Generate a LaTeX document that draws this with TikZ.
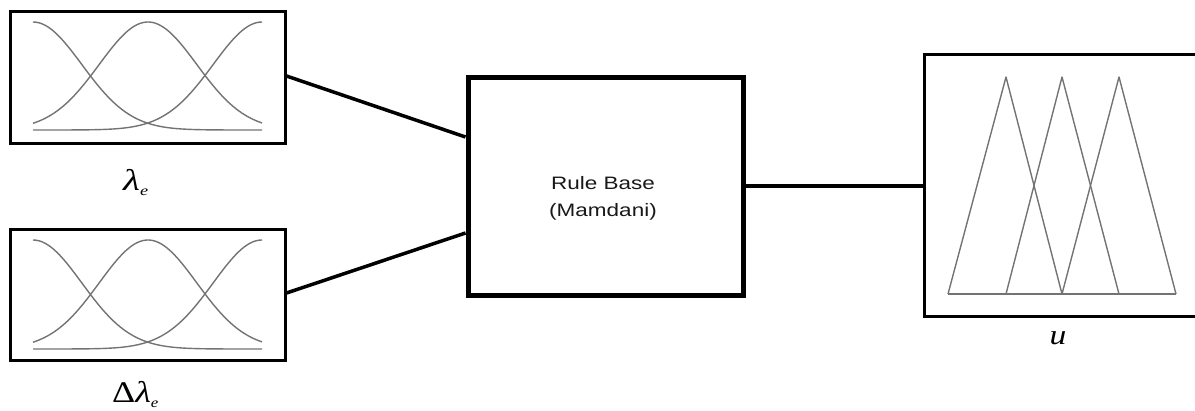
\documentclass[tikz,border=0pt]{standalone}
\usepackage{fontspec}
\setmainfont{Liberation Sans}
\newfontfamily\tms{Liberation Serif}
\usepackage{graphicx}
\tikzset{
  mfbox/.style={draw=black, line width=3pt, rectangle, inner sep=0pt},
  rulebox/.style={draw=black, line width=5pt, rectangle, inner sep=0pt},
  conn/.style={draw=black, line width=3.5pt},
  mf/.style={draw=black!55, line width=1.4pt, line join=round},
  lbl/.style={inner sep=0pt, anchor=center}
}
\newcommand{\subsc}[1]{\raisebox{-5pt}{\fontsize{14}{14}\selectfont #1}}
\begin{document}
\begin{tikzpicture}[x=1pt,y=-1pt]
\useasboundingbox (0,0) rectangle (1195,410);
% input boxes
\node[mfbox, minimum width=275pt, minimum height=132pt] (e) at (147.5,77) {};
\node[mfbox, minimum width=275pt, minimum height=131pt] (de) at (147.5,294.5) {};
% rule base
\node[rulebox, minimum width=275pt, minimum height=218pt] (rb) at (605.5,186) {};
\node[lbl, align=center, font=\fontsize{18}{27}\selectfont, text=black!90] (rbt) at (603,198)
      {\scalebox{1.25}[1]{Rule Base}\\\scalebox{1.25}[1]{(Mamdani)}};
% output box (right side runs off the page)
\node[mfbox, minimum width=280pt, minimum height=262pt] (u) at (1064,185) {};
% gaussian MFs, top box
\draw[mf] plot[domain=0:229, samples=80] ({33+\x}, {130-108*exp(-((\x/48.8)^2)/2)});
\draw[mf] plot[domain=-115:114, samples=80] ({148+\x}, {130-108*exp(-((\x/48.8)^2)/2)});
\draw[mf] plot[domain=-229:0, samples=80] ({262+\x}, {130-108*exp(-((\x/48.8)^2)/2)});
% gaussian MFs, bottom box
\draw[mf] plot[domain=0:229, samples=80] ({33+\x}, {349-109*exp(-((\x/48.8)^2)/2)});
\draw[mf] plot[domain=-115:114, samples=80] ({148+\x}, {349-109*exp(-((\x/48.8)^2)/2)});
\draw[mf] plot[domain=-229:0, samples=80] ({262+\x}, {349-109*exp(-((\x/48.8)^2)/2)});
% triangular MFs
\draw[mf] (948,294) -- (1006,77) -- (1062,294);
\draw[mf] (1006,294) -- (1062,77) -- (1119,294);
\draw[mf] (1062,294) -- (1119,77) -- (1176,294);
\draw[mf] (948,294) -- (1176,294);
% connectors
\draw[conn] (e.east |- 0,76) -- (rb.west |- 0,137);
\draw[conn] (de.east |- 0,293) -- (rb.west |- 0,233);
\draw[conn] (rb.east) -- (u.west |- rb.east);
% labels
\node[lbl, anchor=base west, font=\fontsize{30}{32}\selectfont\tms\itshape] (le) at (123,190) {\scalebox{1.3}[1]{λ\subsc{e}}};
\node[lbl, anchor=base west, font=\fontsize{30}{32}\selectfont\tms] (lde) at (112,402) {\scalebox{1.2}[1]{Δ{\itshape λ}\subsc{\itshape e}}};
\node[lbl, anchor=base, font=\fontsize{28}{30}\selectfont\tms\itshape] (lu) at (1058,344) {\scalebox{1.2}[1]{u}};
\end{tikzpicture}
\end{document}
